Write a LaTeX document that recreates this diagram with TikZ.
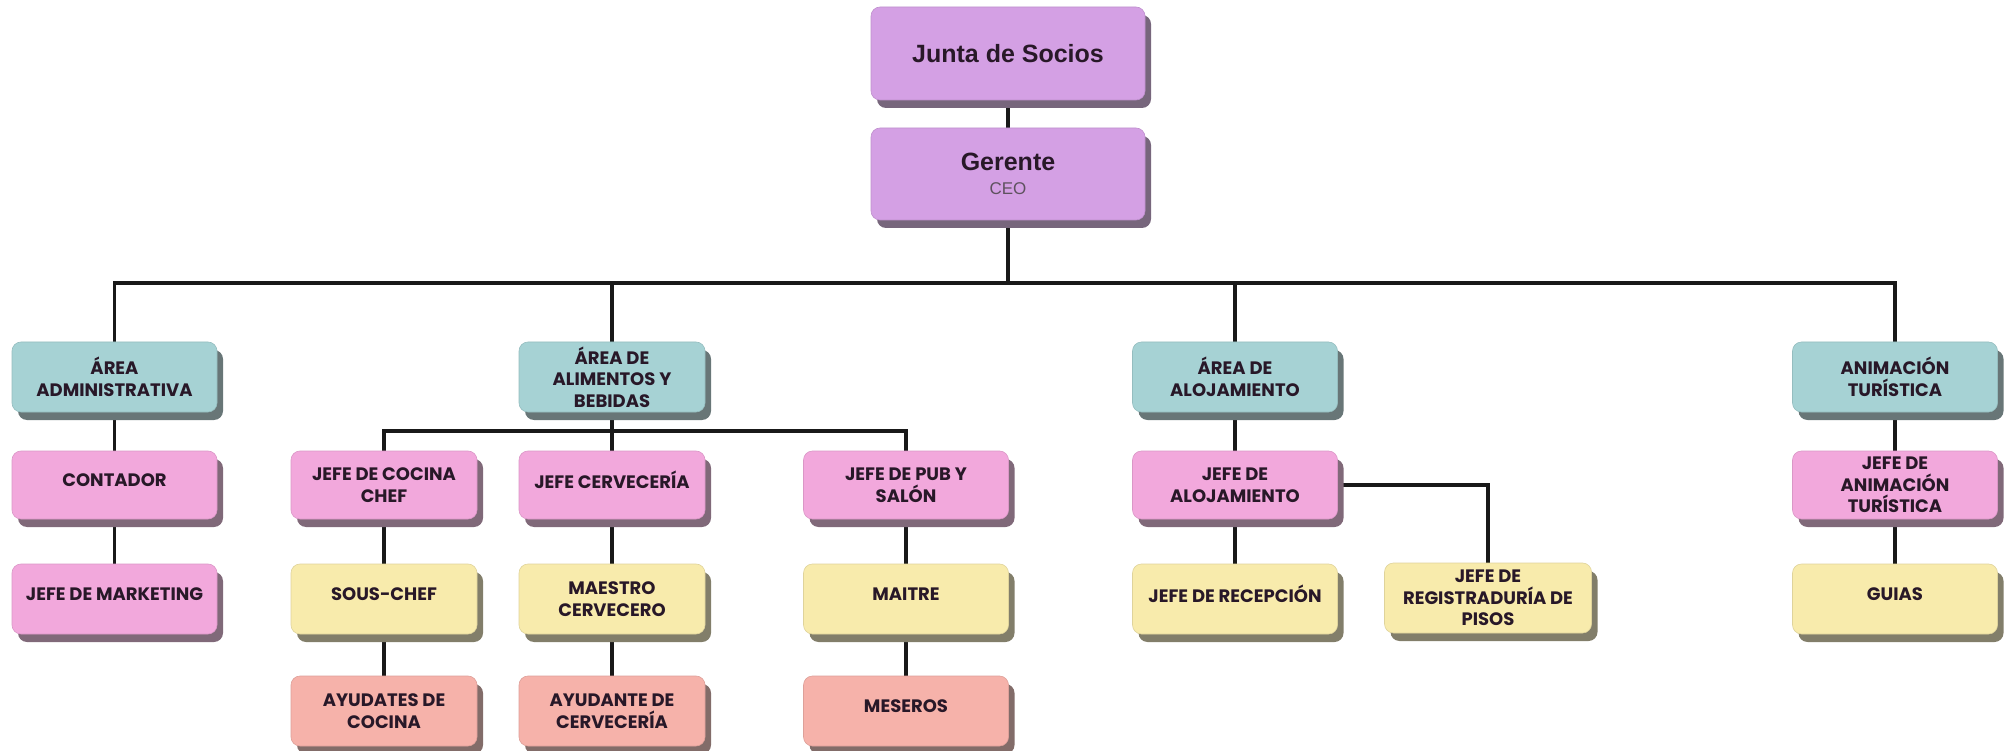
\documentclass[tikz,border=0pt]{standalone}
\usepackage{fontspec}
\setmainfont{Poppins}
\newfontfamily\arialfont{Liberation Sans}
\usetikzlibrary{shadows,backgrounds}
\definecolor{lila}{RGB}{212,160,228}
\definecolor{celeste}{RGB}{166,210,212}
\definecolor{rosa}{RGB}{242,168,220}
\definecolor{crema}{RGB}{248,235,172}
\definecolor{salmon}{RGB}{246,178,170}
\definecolor{tinta}{RGB}{40,24,40}
\begin{document}
\begin{tikzpicture}[x=1pt,y=-1pt,
    caja/.style={rectangle,rounded corners=9pt,fill=#1,draw=#1!90!black,line width=0.6pt,
      drop shadow={shadow xshift=6pt,shadow yshift=-8pt,fill=#1!40!black!80,opacity=1},
      minimum width=205pt,minimum height=70pt,inner sep=2pt,align=center,text=tinta,
      font=\fontsize{18}{21.5}\selectfont\bfseries},
    angosta/.style={minimum width=186pt},
    arriba/.style={text depth=10pt},
    linea/.style={line width=3.4pt,draw=black!90}]
    \useasboundingbox (0,0) rectangle (2011,751);
    \node[caja=lila,minimum width=274pt,minimum height=93pt,font=\arialfont\bfseries\fontsize{25}{28}\selectfont] (junta) at (1008,53.5) {Junta de Socios};
    \node[caja=lila,minimum width=274pt,minimum height=92pt,font=\arialfont\bfseries\fontsize{25}{28}\selectfont] (gerente) at (1008,174) {Gerente\\[-4pt]{\mdseries\fontsize{17}{20}\selectfont\color{tinta!75}CEO}};

    \node[caja=celeste] (admin) at (114.5,377) {ÁREA\\ADMINISTRATIVA};
    \node[caja=celeste,angosta] (alimentos) at (612,377) {ÁREA DE\\ALIMENTOS Y\\BEBIDAS};
    \node[caja=celeste] (alojamiento) at (1235,377) {ÁREA DE\\ALOJAMIENTO};
    \node[caja=celeste] (animacion) at (1895,377) {ANIMACIÓN\\TURÍSTICA};

    \node[caja=rosa,minimum height=68pt,arriba] (contador) at (114.5,485) {CONTADOR};
    \node[caja=rosa,minimum height=68pt,angosta] (cocina) at (384,485) {JEFE DE COCINA\\CHEF};
    \node[caja=rosa,minimum height=68pt,angosta,arriba] (cerveceria) at (612,485) {JEFE CERVECERÍA};
    \node[caja=rosa,minimum height=68pt] (pub) at (906,485) {JEFE DE PUB Y\\SALÓN};
    \node[caja=rosa,minimum height=68pt] (jalojamiento) at (1235,485) {JEFE DE\\ALOJAMIENTO};
    \node[caja=rosa,minimum height=68pt] (janimacion) at (1895,485) {JEFE DE\\ANIMACIÓN\\TURÍSTICA};

    \node[caja=rosa,arriba] (marketing) at (114.5,599) {JEFE DE MARKETING};
    \node[caja=crema,angosta,arriba] (souschef) at (384,599) {SOUS-CHEF};
    \node[caja=crema,angosta] (maestro) at (612,599) {MAESTRO\\CERVECERO};
    \node[caja=crema,arriba] (maitre) at (906,599) {MAITRE};
    \node[caja=crema,arriba] (recepcion) at (1235,599) {JEFE DE RECEPCIÓN};
    \node[caja=crema,minimum width=207pt] (registraduria) at (1488,598) {JEFE DE\\REGISTRADURÍA DE\\PISOS};
    \node[caja=crema,arriba] (guias) at (1895,599) {GUIAS};

    \node[caja=salmon,angosta] (ayudantes) at (384,711) {AYUDATES DE\\COCINA};
    \node[caja=salmon,angosta] (ayudante) at (612,711) {AYUDANTE DE\\CERVECERÍA};
    \node[caja=salmon,arriba] (meseros) at (906,711) {MESEROS};

    \begin{scope}[on background layer]
      \coordinate (bus) at (1008,283);
      \coordinate (ramal) at (612,431);
      \draw[linea] (junta) -- (gerente);
      \draw[linea] (gerente) -- (bus);
      \draw[linea] (admin.north) |- (bus) -| (animacion.north);
      \draw[linea] (alimentos.north) -- (alimentos.north |- bus);
      \draw[linea] (alojamiento.north) -- (alojamiento.north |- bus);
      \draw[linea] (cocina.north) |- (ramal) -| (pub.north);
      \draw[linea] (alimentos) -- (cerveceria);
      \draw[linea] (admin) -- (contador);
      \draw[linea] (contador) -- (marketing);
      \draw[linea] (cocina) -- (souschef);
      \draw[linea] (souschef) -- (ayudantes);
      \draw[linea] (cerveceria) -- (maestro);
      \draw[linea] (maestro) -- (ayudante);
      \draw[linea] (pub) -- (maitre);
      \draw[linea] (maitre) -- (meseros);
      \draw[linea] (alojamiento) -- (jalojamiento);
      \draw[linea] (jalojamiento) -- (recepcion);
      \draw[linea] (jalojamiento.east) -| (registraduria.north);
      \draw[linea] (animacion) -- (janimacion);
      \draw[linea] (janimacion) -- (guias);
    \end{scope}
\end{tikzpicture}
\end{document}
